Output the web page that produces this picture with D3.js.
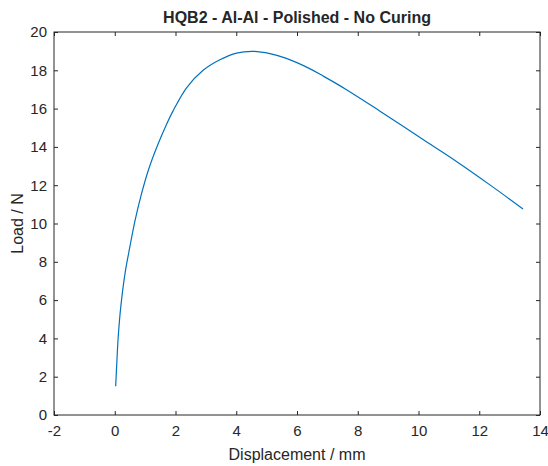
<!DOCTYPE html>
<html>
<head>
<meta charset="utf-8">
<script src="https://cdn.jsdelivr.net/npm/d3@7"></script>
<style>
  body { margin: 0; background: #fff; }
  svg text { font-family: "Liberation Sans", Arial, Helvetica, sans-serif; fill: #262626; }
</style>
</head>
<body>
<div id="chart"></div>
<script>
// load curve
const displacement = [0.03, 0.07, 0.115, 0.20, 0.34, 0.50, 0.66, 0.88, 1.13, 1.40, 1.71, 1.92, 2.37, 2.91, 3.46, 4.01, 4.56, 5.11, 5.65, 6.40, 6.86, 7.63, 8.72, 10.15, 11.25, 12.34, 13.44];
const load = [1.5, 2.8, 4.1, 5.67, 7.41, 8.8, 10.1, 11.55, 12.9, 14.05, 15.2, 15.88, 17.1, 18.0, 18.55, 18.9, 18.99, 18.87, 18.62, 18.1, 17.7, 16.99, 15.88, 14.38, 13.24, 12.03, 10.76];
const xTicks = [-2, 0, 2, 4, 6, 8, 10, 12, 14];
const yTicks = [0, 2, 4, 6, 8, 10, 12, 14, 16, 18, 20];

const W = 548, H = 466;
const box = {left: 54, top: 32, right: 540, bottom: 415};

const svg = d3.select('#chart').append('svg')
  .attr('width', W).attr('height', H);

const x = d3.scaleLinear().domain([-2, 14]).range([box.left, box.right]);
const y = d3.scaleLinear().domain([0, 20]).range([box.bottom, box.top]);

const axisCol = '#262626';
const tickLen = 4;
const plain = d => String(d);

// box
svg.append('rect')
  .attr('x', box.left).attr('y', box.top)
  .attr('width', box.right - box.left).attr('height', box.bottom - box.top)
  .attr('fill', 'none').attr('stroke', axisCol).attr('stroke-width', 1);

// axes with inward ticks
const gx = svg.append('g').attr('transform', `translate(0,${box.bottom})`)
  .call(d3.axisBottom(x).tickValues(xTicks).tickFormat(plain).tickSizeInner(-tickLen).tickSizeOuter(0).tickPadding(10));
const gxTop = svg.append('g').attr('transform', `translate(0,${box.top})`)
  .call(d3.axisTop(x).tickValues(xTicks).tickSizeInner(-tickLen).tickSizeOuter(0).tickFormat(''));
const gy = svg.append('g').attr('transform', `translate(${box.left},0)`)
  .call(d3.axisLeft(y).tickValues(yTicks).tickFormat(plain).tickSizeInner(-tickLen).tickSizeOuter(0).tickPadding(7));
const gyRight = svg.append('g').attr('transform', `translate(${box.right},0)`)
  .call(d3.axisRight(y).tickValues(yTicks).tickSizeInner(-tickLen).tickSizeOuter(0).tickFormat(''));

[gx, gxTop, gy, gyRight].forEach(g => {
  g.select('.domain').remove();
  g.selectAll('.tick line').attr('stroke', axisCol);
  g.selectAll('.tick text').attr('font-size', 15).attr('fill', axisCol)
    .attr('font-family', '"Liberation Sans", Arial, sans-serif');
});

// curve
const line = d3.line()
  .x((d, i) => x(displacement[i]))
  .y(d => y(d))
  .curve(d3.curveCatmullRom.alpha(0.5));

svg.append('path')
  .datum(load)
  .attr('d', line)
  .attr('fill', 'none')
  .attr('stroke', '#0072BD')
  .attr('stroke-width', 1.2);

// title and labels
svg.append('text')
  .attr('x', (box.left + box.right) / 2).attr('y', 23)
  .attr('text-anchor', 'middle')
  .attr('font-size', 16).attr('font-weight', 'bold')
  .attr('fill', '#000')
  .text('HQB2 - Al-Al - Polished - No Curing');

svg.append('text')
  .attr('x', (box.left + box.right) / 2).attr('y', 460)
  .attr('text-anchor', 'middle')
  .attr('font-size', 16)
  .text('Displacement / mm');

svg.append('text')
  .attr('transform', `translate(23,${(box.top + box.bottom) / 2}) rotate(-90)`)
  .attr('text-anchor', 'middle')
  .attr('font-size', 16)
  .text('Load / N');
</script>
</body>
</html>
